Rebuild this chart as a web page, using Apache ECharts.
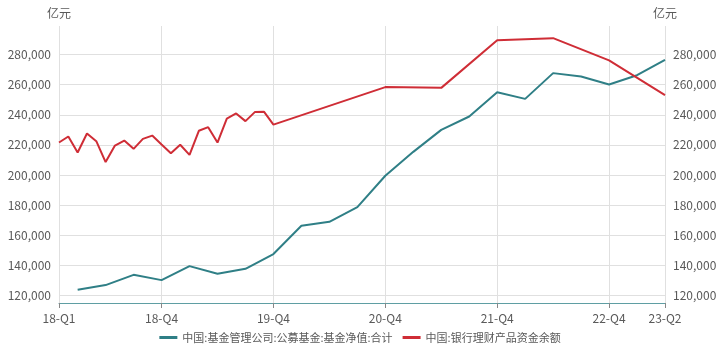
<!DOCTYPE html>
<html>
<head>
<meta charset="utf-8">
<script src="https://cdn.jsdelivr.net/npm/echarts@6/dist/echarts.min.js"></script>
<style>html,body{margin:0;padding:0;background:#fff}#c{width:720px;height:350px}</style>
</head>
<body>
<div id="c"></div>
<script>
// Category axis: months 2018-01 .. 2023-06
const months = [];
for (let y = 2018; y <= 2023; y++) {
  for (let m = 1; m <= 12; m++) {
    if (y === 2023 && m > 6) break;
    months.push(y + '-' + (m < 10 ? '0' + m : '' + m));
  }
}
const tickMonths = ['2018-01','2018-12','2019-12','2020-12','2021-12','2022-12','2023-06'];
const tickLabels = ['18-Q1','18-Q4','19-Q4','20-Q4','21-Q4','22-Q4','23-Q2'];

const fundName = '中国:基金管理公司:公募基金:基金净值:合计';
const fundDates = ['2018-03','2018-06','2018-09','2018-12','2019-03','2019-06','2019-09','2019-12',
  '2020-03','2020-06','2020-09','2020-12','2021-03','2021-06','2021-09','2021-12',
  '2022-03','2022-06','2022-09','2022-12','2023-03','2023-06'];
const fundValues = [123800,126900,133700,130200,139500,134400,137700,147500,
  166300,168900,178700,199500,215400,230000,238900,255000,
  250600,267700,265400,260100,266300,276500];

const wmName = '中国:银行理财产品资金余额';
const wmDates = ['2018-01','2018-02','2018-03','2018-04','2018-05','2018-06','2018-07','2018-08',
  '2018-09','2018-10','2018-11','2018-12','2019-01','2019-02','2019-03','2019-04','2019-05',
  '2019-06','2019-07','2019-08','2019-09','2019-10','2019-11','2019-12',
  '2020-12','2021-06','2021-12','2022-06','2022-12','2023-06'];
const wmValues = [221600,225600,215000,227600,222500,208600,219600,222900,
  217400,224000,226200,220300,214500,220100,213400,229400,231800,
  221600,237500,240900,235800,241800,242000,233500,
  258400,257900,289600,290900,276200,253100];

const yMin = 115000, yMax = 299000;

function pairs(d, v) { return d.map((x, i) => [x, v[i]]); }
const isTick = (idx, val) => tickMonths.indexOf(val !== undefined ? val : months[idx]) >= 0;

const chart = echarts.init(document.getElementById('c'), null, {renderer: 'canvas'});
const font = '"Noto Sans CJK SC", "Noto Sans", sans-serif';
const yAxisCommon = {
  type: 'value', min: yMin, max: yMax, splitNumber: 8,
  name: '亿元', nameLocation: 'end', nameGap: 7,
  nameTextStyle: {color: '#595959', fontSize: 12, fontFamily: font},
  axisLine: {show: false}, axisTick: {show: false},
  axisLabel: {color: '#595959', fontSize: 12, fontFamily: font, margin: 8,
    showMinLabel: false, showMaxLabel: false,
    formatter: v => v.toLocaleString('en-US')}
};
chart.setOption({
  animation: false,
  textStyle: {fontFamily: font},
  grid: {left: 59, right: 55, top: 26, bottom: 47, containLabel: false},
  legend: {
    bottom: 2, left: 'center', itemWidth: 18, itemHeight: 3, itemGap: 10,
    icon: 'rect',
    textStyle: {color: '#595959', fontSize: 11, fontFamily: font},
    data: [fundName, wmName]
  },
  xAxis: {
    type: 'category', data: months, boundaryGap: false,
    axisLine: {show: true, lineStyle: {color: '#5f9ea3', width: 1}},
    axisTick: {show: true, interval: isTick, length: 5, lineStyle: {color: '#888'}},
    axisLabel: {interval: isTick, color: '#595959', fontSize: 12, fontFamily: font, margin: 9,
      formatter: v => tickLabels[tickMonths.indexOf(v)] || ''},
    splitLine: {show: true, interval: isTick, lineStyle: {color: '#e0e0e0', width: 1}}
  },
  yAxis: [
    Object.assign({}, yAxisCommon, {position: 'left',
      splitLine: {show: true, showMinLine: false, showMaxLine: false, lineStyle: {color: '#e0e0e0', width: 1}}}),
    Object.assign({}, yAxisCommon, {position: 'right', splitLine: {show: false}})
  ],
  series: [
    {name: fundName, type: 'line', yAxisIndex: 0, data: pairs(fundDates, fundValues),
      showSymbol: false, symbol: 'none', lineStyle: {color: '#2f7f86', width: 2}, itemStyle: {color: '#2f7f86'}},
    {name: wmName, type: 'line', yAxisIndex: 1, data: pairs(wmDates, wmValues),
      showSymbol: false, symbol: 'none', lineStyle: {color: '#cf2d36', width: 2}, itemStyle: {color: '#cf2d36'}}
  ]
});
</script>
</body>
</html>
